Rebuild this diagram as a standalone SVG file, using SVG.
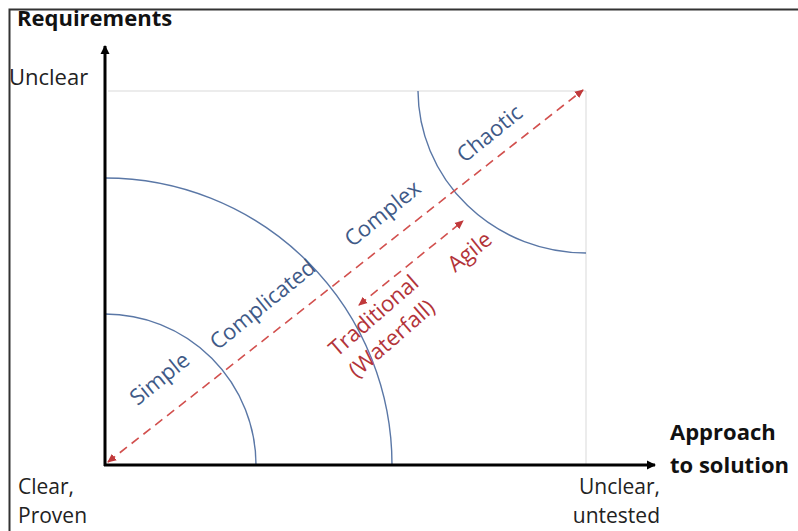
<svg xmlns="http://www.w3.org/2000/svg" width="798" height="531" viewBox="0 0 798 531">
<defs>
<marker id="axhead" markerWidth="10" markerHeight="10" refX="8" refY="5" orient="auto" markerUnits="userSpaceOnUse">
<path d="M0,0.5 L9,5 L0,9.5 Z" fill="#000"/>
</marker>
<marker id="redhead" markerWidth="10" markerHeight="10" refX="8" refY="5" orient="auto-start-reverse" markerUnits="userSpaceOnUse">
<path d="M0,1 L9,5 L0,9 Z" fill="#c0393b"/>
</marker>
<style>
.lbl{font-family:"Open Sans","Liberation Sans",sans-serif;font-size:22px;fill:#222}
.sm{font-size:21px}
.bold{font-weight:bold;fill:#111}
.zone{font-family:"Open Sans","Liberation Sans",sans-serif;font-size:22px;fill:#3f5a87;text-anchor:middle}
.red{font-family:"Open Sans","Liberation Sans",sans-serif;font-size:22px;fill:#b3343a;text-anchor:middle}
.arc{fill:none;stroke:#5a77a6;stroke-width:1.4}
.grid{fill:none;stroke:#d9d9d9;stroke-width:1}
.dash{fill:none;stroke:#d2504e;stroke-width:1.6;stroke-dasharray:9 6}
.axis{fill:none;stroke:#000;stroke-width:3}
</style>
</defs>
<rect width="798" height="531" fill="#fff"/>
<path d="M9.5,531 V9.5 H798" fill="none" stroke="#333" stroke-width="2"/>

<g id="grid">
<path class="grid" d="M108,91 H586 V465"/>
</g>

<g id="zones">
<path class="arc" d="M105,314 A151,151 0 0 1 256,465"/>
<path class="arc" d="M105,178 A287,287 0 0 1 392,465"/>
<path class="arc" d="M418,91 A168,163 0 0 0 586,253"/>
</g>

<g id="connectors">
<path class="axis" d="M105,466 V46" marker-end="url(#axhead)"/>
<path class="axis" d="M104,465 H655" marker-end="url(#axhead)"/>
<path class="dash" d="M108,462 L583,90" marker-start="url(#redhead)" marker-end="url(#redhead)"/>
<path class="dash" d="M359,305 L463,221" marker-start="url(#redhead)" marker-end="url(#redhead)"/>
</g>

<g id="axis-labels">
<text class="lbl bold" x="17" y="26" font-size="23">Requirements</text>
<text class="lbl" x="9" y="85">Unclear</text>
<text class="lbl sm" x="18" y="494">Clear,</text>
<text class="lbl sm" x="18" y="523">Proven</text>
<text class="lbl sm" x="660" y="494" text-anchor="end">Unclear,</text>
<text class="lbl sm" x="660" y="523" text-anchor="end">untested</text>
<text class="lbl bold" x="670" y="440">Approach</text>
<text class="lbl bold" x="670" y="473">to solution</text>
</g>

<g id="zone-labels">
<text class="zone" transform="translate(160,379) rotate(-39)" dy="7">Simple</text>
<text class="zone" transform="translate(263,305) rotate(-39)" dy="7">Complicated</text>
<text class="zone" transform="translate(383,214) rotate(-39)" dy="7">Complex</text>
<text class="zone" transform="translate(490,134) rotate(-39)" dy="7">Chaotic</text>
</g>

<g id="approach-labels">
<text class="red" transform="translate(470,252) rotate(-39)" dy="7">Agile</text>
<text class="red" transform="translate(374,316) rotate(-41)" dy="7">Traditional</text>
<text class="red" transform="translate(392,339) rotate(-41)" dy="7">(Waterfall)</text>
</g>
</svg>
